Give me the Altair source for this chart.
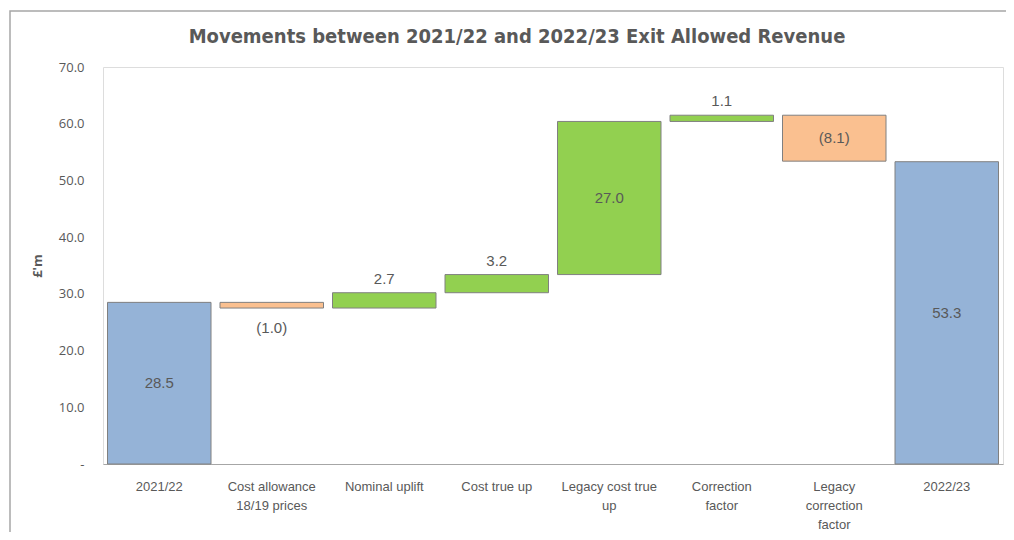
import altair as alt
import pandas as pd

categories = ["2021/22", "Cost allowance|18/19 prices", "Nominal uplift", "Cost true up",
              "Legacy cost true|up", "Correction|factor", "Legacy|correction|factor", "2022/23"]
values = [28.5, -1.0, 2.7, 3.2, 27.0, 1.1, -8.1, 53.3]
kinds = ["total", "delta", "delta", "delta", "delta", "delta", "delta", "total"]
label_pos = ["mid", "below", "above", "above", "mid", "above", "mid", "mid"]

rows = []
run = 0.0
for i, (c, v, k, lp) in enumerate(zip(categories, values, kinds, label_pos)):
    if k == "total":
        start, end = 0.0, v
        run = v
        color = "total"
    else:
        start, end = run, run + v
        run = end
        color = "up" if v >= 0 else "down"
    lo, hi = min(start, end), max(start, end)
    if lp == "mid":
        ly = (lo + hi) / 2
    elif lp == "above":
        ly = hi
    else:
        ly = lo
    txt = f"({abs(v):.1f})" if v < 0 else f"{v:.1f}"
    rows.append(dict(cat=c, start=start, end=end, kind=color, ly=ly, pos=lp, txt=txt))

df = pd.DataFrame(rows)

W, H = 900, 397
FONT = "Liberation Sans"
GREY = "#595959"

xenc = alt.X("cat:N", sort=categories, title=None,
             scale=alt.Scale(paddingInner=0.08, paddingOuter=0.04),
             axis=alt.Axis(labelExpr="split(datum.label, '|')", labelAngle=0,
                           labelFont=FONT, labelFontSize=13,
                           labelColor=GREY, labelPadding=16, labelLineHeight=19,
                           ticks=False, domainColor="#a6a6a6", labelBaseline="top"))

bars = alt.Chart(df).mark_bar(stroke="#808080", strokeWidth=1).encode(
    x=xenc,
    y=alt.Y("start:Q", title="£'m",
            scale=alt.Scale(domain=[0, 70], nice=False),
            axis=alt.Axis(values=[0, 10, 20, 30, 40, 50, 60, 70],
                          labelExpr="datum.value == 0 ? '-' : format(datum.value, '.1f')",
                          labelFont="Open Sans", labelFontSize=13, labelColor=GREY,
                          labelPadding=19, ticks=False, domain=False, grid=False,
                          titleFont="Open Sans", titleFontSize=13, titleColor=GREY,
                          titleFontWeight="bold", titlePadding=14)),
    y2="end:Q",
    color=alt.Color("kind:N", legend=None,
                    scale=alt.Scale(domain=["total", "up", "down"],
                                    range=["#95B3D7", "#92D050", "#FAC090"])),
)

def label_layer(pos, dy):
    return alt.Chart(df).transform_filter(alt.datum.pos == pos).mark_text(
        font=FONT, fontSize=15, color=GREY, dy=dy).encode(
        x=alt.X("cat:N", sort=categories),
        y=alt.Y("ly:Q"),
        text="txt:N",
    )

labels = [label_layer("mid", 0), label_layer("above", -14), label_layer("below", 20)]

frame = alt.Chart(pd.DataFrame({"a": [0]})).mark_rect(
    fill=None, stroke="#a6a6a6", strokeWidth=1.5).encode(
    x=alt.value(-93), x2=alt.value(1020), y=alt.value(-56), y2=alt.value(600))

title = alt.Chart(pd.DataFrame({"t": ["Movements between 2021/22 and 2022/23 Exit Allowed Revenue"]})).mark_text(
    font="DejaVu Sans Condensed, Liberation Sans Narrow, Liberation Sans", fontSize=20, fontWeight="bold",
    color=GREY, align="center", baseline="middle").encode(
    x=alt.value(W / 2 - 36), y=alt.value(-30), text="t:N")

chart = alt.layer(frame, bars, *labels, title).properties(
    width=W, height=H,
    autosize=alt.AutoSizeParams(type="none"),
    padding={"left": 95, "top": 59, "right": 3, "bottom": 68},
).configure_view(stroke="#d0d0d0").configure(background="white")

chart.save("out.html", embed_options={"renderer": "svg", "actions": False})
